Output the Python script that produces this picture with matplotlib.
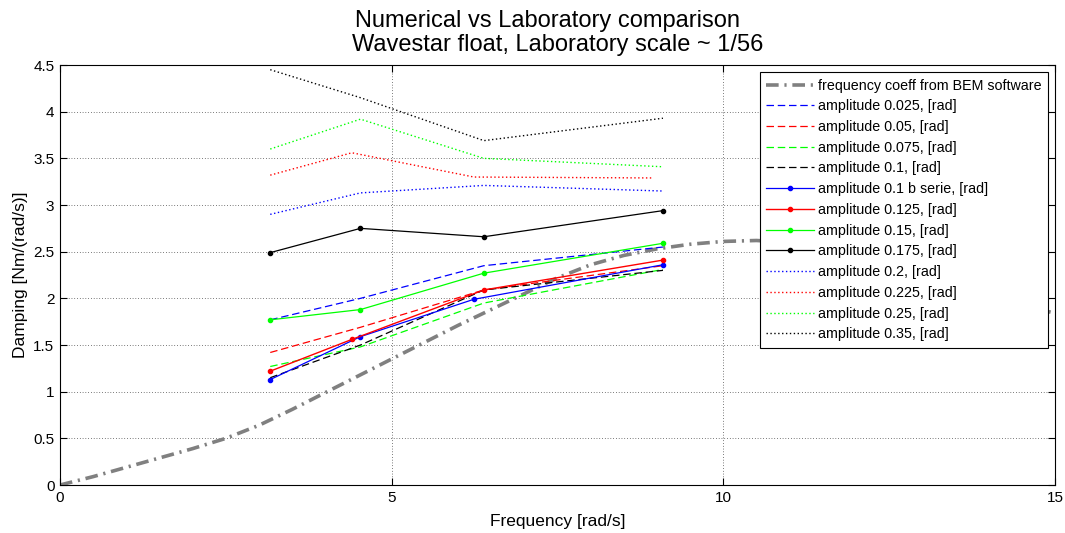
"""Numerical vs laboratory damping comparison, Wavestar float."""

import matplotlib

matplotlib.use("Agg")
import matplotlib.pyplot as plt

plt.rcParams["font.family"] = ["Liberation Sans", "DejaVu Sans"]

# BEM frequency-domain radiation damping
bem_freq = [0, 0.5, 1, 1.5, 2, 2.5, 3, 3.5, 4, 4.5, 5, 5.5, 6, 6.5, 7, 7.5,
            8, 8.5, 9, 9.5, 10, 10.5, 11, 11.5, 12, 12.5, 13, 13.5, 14, 14.5, 15]
bem_damping = [0.0, 0.09, 0.19, 0.29, 0.39, 0.50, 0.64, 0.81, 0.99, 1.17, 1.35,
               1.53, 1.71, 1.88, 2.05, 2.22, 2.36, 2.46, 2.53, 2.58, 2.61, 2.62,
               2.60, 2.55, 2.48, 2.38, 2.27, 2.15, 2.03, 1.93, 1.84]

# laboratory tests
freq_a = [3.17, 4.53, 6.39, 9.09]
freq_b = [3.17, 4.53, 6.24, 9.09]
freq_c = [3.17, 4.40, 6.39, 9.09]
freq_d = [3.17, 4.40, 6.24, 8.95]

amp_0025 = [1.77, 2.00, 2.35, 2.55]
amp_005 = [1.42, 1.69, 2.09, 2.35]
amp_0075 = [1.27, 1.48, 1.95, 2.31]
amp_01 = [1.15, 1.50, 2.09, 2.30]
amp_01b = [1.13, 1.59, 1.99, 2.36]
amp_0125 = [1.22, 1.56, 2.09, 2.41]
amp_015 = [1.77, 1.88, 2.27, 2.59]
amp_0175 = [2.49, 2.75, 2.66, 2.94]
amp_02 = [2.90, 3.13, 3.21, 3.15]
amp_0225 = [3.32, 3.56, 3.30, 3.29]
amp_025 = [3.60, 3.92, 3.50, 3.41]
amp_035 = [4.45, 4.15, 3.69, 3.93]

blue, red, green, black = (0, 0, 1), (1, 0, 0), (0, 1, 0), (0, 0, 0)
dashed = (0, (6, 3))
dotted = (0, (1, 1.8))

fig = plt.figure(figsize=(10.65, 5.33), dpi=100)
ax = fig.add_axes([0.0563, 0.090, 0.9343, 0.788])

ax.plot(bem_freq, bem_damping, color=(0.5, 0.5, 0.5), lw=2.6,
        dashes=(3.5, 1.6, 0.6, 1.6), label="frequency coeff from BEM software")

ax.plot(freq_a, amp_0025, color=blue, lw=0.9, ls=dashed, label="amplitude 0.025, [rad]")
ax.plot(freq_a, amp_005, color=red, lw=0.9, ls=dashed, label="amplitude 0.05, [rad]")
ax.plot(freq_a, amp_0075, color=green, lw=0.9, ls=dashed, label="amplitude 0.075, [rad]")
ax.plot(freq_a, amp_01, color=black, lw=0.9, ls=dashed, label="amplitude 0.1, [rad]")

ax.plot(freq_b, amp_01b, color=blue, lw=0.9, marker=".", ms=6,
        label="amplitude 0.1 b serie, [rad]")
ax.plot(freq_c, amp_0125, color=red, lw=1.0, marker=".", ms=6,
        label="amplitude 0.125, [rad]")
ax.plot(freq_a, amp_015, color=green, lw=0.9, marker=".", ms=6,
        label="amplitude 0.15, [rad]")
ax.plot(freq_a, amp_0175, color=black, lw=0.9, marker=".", ms=6,
        label="amplitude 0.175, [rad]")

ax.plot(freq_a, amp_02, color=blue, lw=1.0, ls=dotted, label="amplitude 0.2, [rad]")
ax.plot(freq_d, amp_0225, color=red, lw=1.0, ls=dotted, label="amplitude 0.225, [rad]")
ax.plot(freq_a, amp_025, color=green, lw=1.0, ls=dotted, label="amplitude 0.25, [rad]")
ax.plot(freq_a, amp_035, color=black, lw=1.0, ls=dotted, label="amplitude 0.35, [rad]")

ax.set_xlim(0, 15)
ax.set_ylim(0, 4.5)
ax.set_xticks([0, 5, 10, 15])
ax.set_yticks([0, 0.5, 1, 1.5, 2, 2.5, 3, 3.5, 4, 4.5])
ax.set_yticklabels(["0", "0.5", "1", "1.5", "2", "2.5", "3", "3.5", "4", "4.5"])
ax.tick_params(direction="in", length=5, width=0.8, top=True, right=True,
               labelsize=11, pad=4)
ax.grid(True, color="black", ls=(0, (1, 3)), lw=0.5)
for sp in ax.spines.values():
    sp.set_linewidth(0.8)

ax.set_xlabel("Frequency [rad/s]", fontsize=12.5, labelpad=7)
ax.set_ylabel("Damping [Nm/(rad/s)]", fontsize=12.5)
ax.set_title("Numerical vs Laboratory comparison   \nWavestar float, Laboratory scale ~ 1/56",
             fontsize=17, pad=10, linespacing=1.12)

leg = ax.legend(loc="upper right", bbox_to_anchor=(0.993, 0.983), fontsize=10.3,
                handlelength=3.3, handletextpad=0.3, labelspacing=0.47,
                borderpad=0.45, borderaxespad=0, fancybox=False, framealpha=1,
                edgecolor="black")
leg.get_frame().set_linewidth(0.8)

fig.savefig("out.png", dpi=100)
